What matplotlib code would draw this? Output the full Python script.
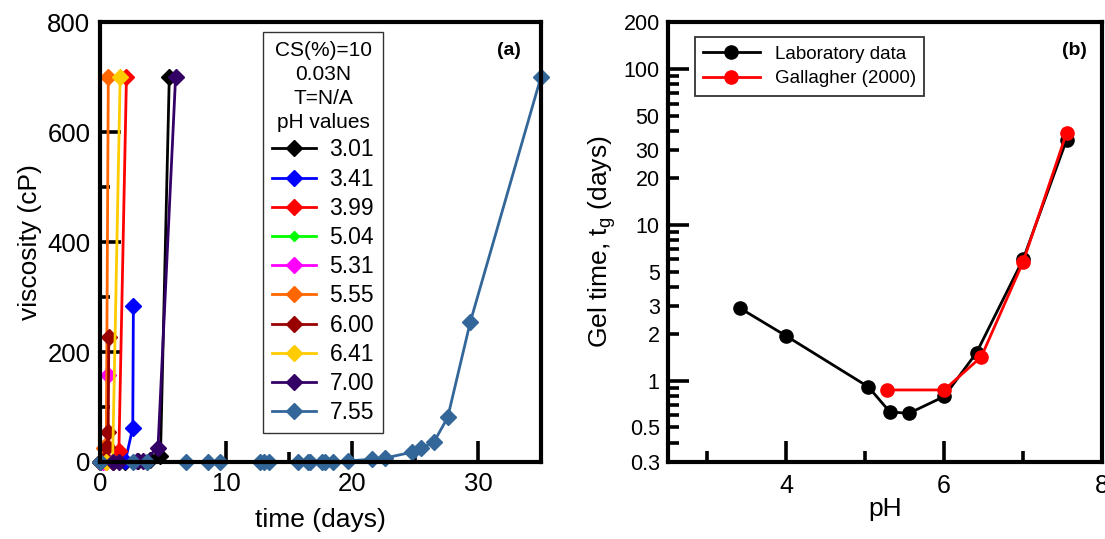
import matplotlib
matplotlib.use("Agg")
import matplotlib.pyplot as plt
from matplotlib.ticker import FixedLocator, FuncFormatter
import numpy as np

plt.rcParams['font.family'] = ['Liberation Sans', 'DejaVu Sans']
plt.rcParams['mathtext.default'] = 'regular'

# ---------------- Panel (a) data ----------------
ph_labels = ["3.01", "3.41", "3.99", "5.04", "5.31", "5.55", "6.00", "6.41", "7.00", "7.55"]
ph_colors = ["#000000", "#0000FF", "#FF0000", "#00FF00", "#FF00FF", "#FF6600",
             "#990000", "#FFCC00", "#330066", "#336699"]

t_301 = [0.0, 1.0, 2.0, 3.0, 4.0, 4.8, 5.5]
v_301 = [0, 0, 0, 1, 3, 10, 700]
t_341 = [0.0, 1.0, 2.0, 2.6, 2.65]
v_341 = [0, 0, 1, 62, 283]
t_399 = [0.0, 0.5, 1.0, 1.5, 2.1]
v_399 = [0, 0, 0, 20, 700]
t_504 = [0.0, 0.1, 0.2, 0.3]
v_504 = [0, 0, 0, 0]
t_531 = [0.0, 0.25, 0.5, 0.66]
v_531 = [0, 0, 5, 158]
t_555 = [0.0, 0.3, 0.5, 0.66]
v_555 = [0, 25, 30, 700]
t_600 = [0.0, 0.4, 0.55, 0.65, 0.7]
v_600 = [0, 5, 28, 55, 228]
t_641 = [0.0, 0.5, 1.0, 1.6]
v_641 = [0, 0, 0, 700]
t_700 = [0.0, 1.0, 1.5, 2.9, 3.4, 4.6, 6.0]
v_700 = [0, 0, 0, 1, 2, 25, 700]
t_755 = [0.0, 2.6, 3.7, 6.8, 8.6, 9.5, 12.7, 13.0, 13.4, 15.7, 16.5, 16.7, 17.6,
         17.9, 18.5, 19.7, 21.6, 22.6, 24.8, 25.5, 26.5, 27.6, 29.4, 35.0]
v_755 = [0, 0, 0, 0, 0, 0, 0, 0, 0, 0, 0, 0, 0,
         0, 0, 2, 5, 7, 18, 25, 36, 81, 255, 700]

series_t = [t_301, t_341, t_399, t_504, t_531, t_555, t_600, t_641, t_700, t_755]
series_v = [v_301, v_341, v_399, v_504, v_531, v_555, v_600, v_641, v_700, v_755]

# ---------------- Panel (b) data ----------------
lab_ph = [3.41, 4.0, 5.04, 5.31, 5.55, 6.0, 6.41, 7.0, 7.55]
lab_tg = [2.92, 1.93, 0.91, 0.63, 0.615, 0.79, 1.51, 6.0, 35.0]
gal_ph = [5.27, 6.0, 6.47, 7.0, 7.55]
gal_tg = [0.87, 0.87, 1.42, 5.78, 38.8]

fig = plt.figure(figsize=(11.05, 5.39), dpi=100)
axA = fig.add_axes([0.0905, 0.1429, 0.399, 0.816])
axB = fig.add_axes([0.6045, 0.1429, 0.3928, 0.816])

spine_w = 3.0
for ax in (axA, axB):
    for s in ax.spines.values():
        s.set_linewidth(spine_w)

# ---- Panel (a) ----
for t, v, c, lab in zip(series_t, series_v, ph_colors, ph_labels):
    ms = 5 if lab == "5.04" else 8.0
    axA.plot(t, v, color=c, lw=2.0, marker='D', ms=ms, mec=c, mfc=c, label=lab,
             clip_on=False)

axA.set_xlim(0, 35)
axA.set_ylim(0, 800)
axA.set_xticks([0, 10, 20, 30])
axA.set_xticks([5, 15, 25], minor=True)
axA.set_yticks([0, 200, 400, 600, 800])
axA.set_yticks([100, 300, 500, 700], minor=True)
axA.tick_params(which='major', direction='in', length=15, width=2.6, labelsize=18.5, pad=7)
axA.tick_params(which='minor', direction='in', length=7.5, width=2.6)
axA.set_xlabel("time (days)", fontsize=19, labelpad=9)
axA.set_ylabel("viscosity (cP)", fontsize=19, labelpad=4)
axA.text(0.955, 0.955, "(a)", transform=axA.transAxes, fontsize=14,
         fontweight='bold', ha='right', va='top')

legA = axA.legend(title="CS(%)=10\n0.03N\nT=N/A\npH values", loc='upper left',
                  bbox_to_anchor=(0.37, 0.977), borderaxespad=0, fontsize=16.5,
                  title_fontsize=15, frameon=True, fancybox=False,
                  edgecolor='black', handlelength=1.9, handletextpad=0.6,
                  labelspacing=0.27, borderpad=0.4)
legA.get_frame().set_linewidth(1.0)
legA.get_title().set_multialignment('center')
legA.get_title().set_linespacing(1.33)
legA._legend_box.align = "center"

# ---- Panel (b) ----
axB.plot(lab_ph, lab_tg, color='black', lw=2.0, marker='o', ms=9.5,
         label='Laboratory data', zorder=3)
axB.plot(gal_ph, gal_tg, color='#FF0000', lw=2.0, marker='o', ms=9.5,
         label='Gallagher (2000)', zorder=4)
axB.set_yscale('log')
axB.set_xlim(2.5, 8)
axB.set_ylim(0.3, 200)
axB.xaxis.set_major_locator(FixedLocator([4, 6, 8]))
axB.xaxis.set_minor_locator(FixedLocator([3, 5, 7]))
axB.yaxis.set_major_locator(FixedLocator([1, 10, 100]))
minor_vals = [0.3, 0.4, 0.5, 0.6, 0.7, 0.8, 0.9, 2, 3, 4, 5, 6, 7, 8, 9,
              20, 30, 40, 50, 60, 70, 80, 90, 200]
axB.yaxis.set_minor_locator(FixedLocator(minor_vals))
labelled = {0.3: "0.3", 0.5: "0.5", 2: "2", 3: "3", 5: "5", 20: "20", 30: "30",
            50: "50", 200: "200"}

def minor_fmt(v, pos):
    for k, s in labelled.items():
        if abs(v - k) / k < 1e-6:
            return s
    return ""

axB.yaxis.set_major_formatter(FuncFormatter(lambda v, p: "%g" % v))
axB.yaxis.set_minor_formatter(FuncFormatter(minor_fmt))
axB.tick_params(which='major', direction='in', length=15, width=2.6, labelsize=15.5, pad=6)
axB.tick_params(which='minor', direction='in', length=8, width=2.6, labelsize=15.5, pad=6)
axB.tick_params(axis='x', which='both', labelsize=18, pad=9)
axB.set_xlabel("pH", fontsize=19, labelpad=-1)
axB.set_ylabel("Gel time, t$_{g}$ (days)", fontsize=19, labelpad=4)
axB.text(0.965, 0.955, "(b)", transform=axB.transAxes, fontsize=14,
         fontweight='bold', ha='right', va='top')

legB = axB.legend(loc='upper left', bbox_to_anchor=(0.062, 0.966), borderaxespad=0,
                  fontsize=13.5, frameon=True, fancybox=False, edgecolor='black',
                  handlelength=3.0, labelspacing=0.4, borderpad=0.45)
legB.get_frame().set_linewidth(1.3)

fig.savefig("out.png", dpi=100)
